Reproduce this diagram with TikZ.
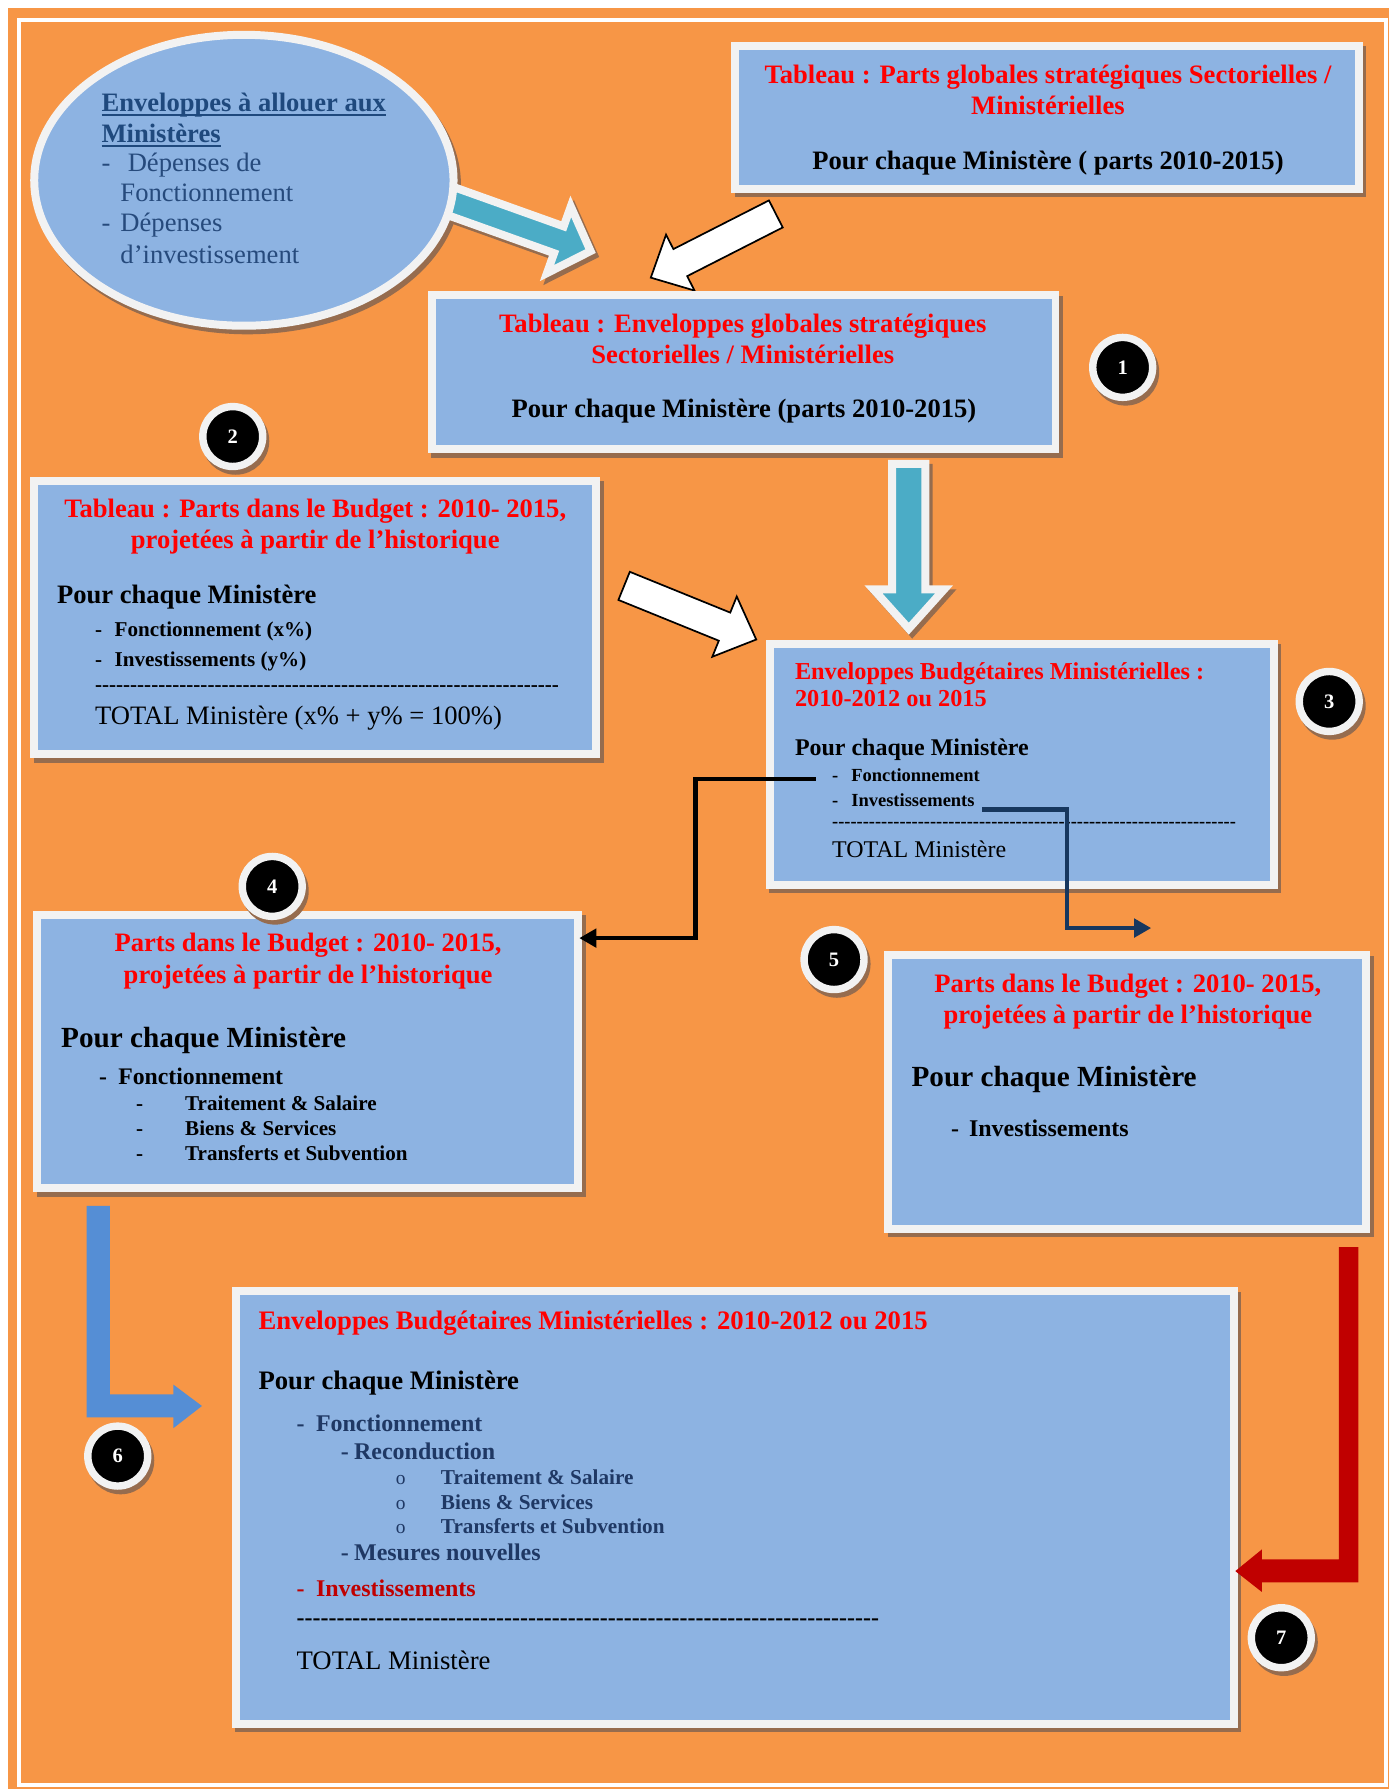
\documentclass[tikz,border=0pt]{standalone}
\usepackage{fontspec}
\setmainfont{Liberation Serif}[Ligatures=TeXOff]
\usetikzlibrary{arrows.meta,shapes.geometric}
\definecolor{orangebg}{HTML}{F79646}
\definecolor{boxblue}{HTML}{8DB3E2}
\definecolor{framec}{HTML}{F2F2F2}
\definecolor{shadowc}{RGB}{150,108,78}
\definecolor{tealarrow}{HTML}{4BACC6}
\definecolor{redtxt}{HTML}{FF0000}
\definecolor{navytxt}{HTML}{1F3864}
\definecolor{ellhead}{HTML}{1F497D}
\definecolor{ellbody}{HTML}{264A7C}
\definecolor{darkred}{HTML}{C00000}
\definecolor{cornblue}{HTML}{558ED5}
\definecolor{navyconn}{HTML}{17375E}
\newcommand\fsz[1]{\fontsize{#1}{#1}\selectfont}
\newcommand\myul[1]{\setbox0=\hbox{#1}\rlap{\rule[-3.8pt]{\wd0}{1.8pt}}\box0}
\newcount\hycnt
\newcommand\hyrow[1]{\hycnt=0\relax\loop\ifnum\hycnt<#1\relax-\advance\hycnt by 1\relax\repeat}
\begin{document}
\begin{tikzpicture}[x=1pt,y=-1pt,
  txt/.style={inner sep=0pt, outer sep=0pt, anchor=base west},
  ctxt/.style={inner sep=0pt, outer sep=0pt, anchor=base},
  box/.style={rectangle, draw=framec, line width=7pt, fill=boxblue, inner sep=0pt,
    preaction={fill=shadowc, draw=shadowc, line width=7pt, transform canvas={xshift=3pt,yshift=-4pt}}},
  numc/.style={circle, draw=framec, line width=6.5pt, fill=black, minimum size=52.5pt, inner sep=0pt,
    text=white, font=\bfseries\fsz{18},
    preaction={fill=shadowc, draw=shadowc, line width=6.5pt, transform canvas={xshift=2.5pt,yshift=-4pt}}},
  tealarr/.style={draw=framec, line width=7pt, fill=tealarrow, line join=miter, miter limit=10},
  tealshadow/.style={draw=shadowc, line width=7pt, fill=shadowc, line join=miter, miter limit=10},
  whitearr/.style={draw=black, line width=1.5pt, fill=white, line join=miter, miter limit=10},
  conn/.style={line width=4pt, -{Triangle[length=15pt,width=16pt]}},
  redh/.style={font=\bfseries\fsz{23.3}, text=redtxt},
  blk/.style={font=\bfseries\fsz{23.3}, text=black}
]
\useasboundingbox (0,0) rectangle (1217,1568);
\fill[white] (0,0) rectangle (1217,1568);
\fill[orangebg] (7,7) rectangle (1217,1568);
\draw[white, line width=3.5pt] (17,17.5) rectangle (1214.8,1564.5);

% white arrow from T1 to B1
\begin{scope}[shift={(680,187.5)}, rotate=-153]
  \draw[whitearr] (0,-13.3) -- (94,-13.3) -- (94,-27.5) -- (123,0) -- (94,27.5) -- (94,13.3) -- (0,13.3) -- cycle;
\end{scope}

% boxes
\node[box, minimum width=546.5pt, minimum height=125.3pt] (t1) at (917.75,102.65) {};
\node[box, minimum width=546.9pt, minimum height=135pt] (b1) at (651.65,326) {};
\node[box, minimum width=492.4pt, minimum height=239.8pt] (b2) at (276.3,541.1) {};
\node[box, minimum width=442pt, minimum height=211.2pt] (b3) at (895.5,669.9) {};
\node[box, minimum width=474.2pt, minimum height=239.8pt] (b4) at (269.9,921.6) {};
\node[box, minimum width=419.1pt, minimum height=239.7pt] (b5) at (987.95,957.25) {};
\node[box, minimum width=874.7pt, minimum height=379.2pt] (b6) at (644.15,1321.3) {};

% ellipse shadow, teal arrow A, ellipse
\fill[shadowc] (216.75,162) ellipse [x radius=187.25pt, y radius=131pt];
\begin{scope}[shift={(401.5,181)}, rotate=-19.67]
  \draw[tealshadow] (-8,-12.5) -- (97,-12.5) -- (97,-31) -- (126.5,0) -- (97,31) -- (97,12.5) -- (-8,12.5) -- cycle;
\end{scope}
\begin{scope}[shift={(398.5,177.5)}, rotate=-19.67]
  \draw[tealarr] (-8,-12.5) -- (97,-12.5) -- (97,-31) -- (126.5,0) -- (97,31) -- (97,12.5) -- (-8,12.5) -- cycle;
\end{scope}
\node[ellipse, draw=framec, line width=7pt, fill=boxblue, minimum width=367.5pt, minimum height=255pt, inner sep=0pt] (ell) at (213.75,158) {};

% teal arrow D (down)
\begin{scope}[shift={(799.5,410)}, rotate=-90]
  \draw[tealshadow] (0,-14.5) -- (110,-14.5) -- (110,-31) -- (144.5,0) -- (110,31) -- (110,14.5) -- (0,14.5) -- cycle;
\end{scope}
\begin{scope}[shift={(796.5,406.5)}, rotate=-90]
  \draw[tealarr] (0,-14.5) -- (110,-14.5) -- (110,-31) -- (144.5,0) -- (110,31) -- (110,14.5) -- (0,14.5) -- cycle;
\end{scope}

% white arrow C from B2 to B3
\begin{scope}[shift={(547,513.5)}, rotate=-22.1]
  \draw[whitearr] (0,-13.3) -- (95,-13.3) -- (95,-28.5) -- (125,0) -- (95,28.5) -- (95,13.3) -- (0,13.3) -- cycle;
\end{scope}

% ellipse text
\node[txt, font=\bfseries\fsz{23.3}, text=ellhead] (e1) at (89,98) {\myul{Enveloppes à allouer aux}};
\node[txt, font=\bfseries\fsz{23.3}, text=ellhead] (e2) at (89,125) {\myul{Ministères}};
\node[txt, font=\fsz{23.3}, text=ellbody] (e3) at (89,150.5) {-};
\node[txt, font=\fsz{23.3}, text=ellbody] (e4) at (112,150.5) {Dépenses de};
\node[txt, font=\fsz{23.3}, text=ellbody] (e5) at (105.6,176.5) {Fonctionnement};
\node[txt, font=\fsz{23.3}, text=ellbody] (e6) at (89,203) {-};
\node[txt, font=\fsz{23.3}, text=ellbody] (e7) at (105.6,203) {Dépenses};
\node[txt, font=\fsz{23.3}, text=ellbody] (e8) at (105.6,230.6) {d’investissement};

% T1 text
\node[ctxt, redh] (t1a) at (918.5,73) {Tableau : Parts globales stratégiques Sectorielles /};
\node[ctxt, redh] (t1b) at (918.5,100) {Ministérielles};
\node[ctxt, blk] (t1c) at (918.5,148.4) {Pour chaque Ministère ( parts 2010-2015)};

% B1 text
\node[ctxt, redh] (b1a) at (651,291) {Tableau : Enveloppes globales stratégiques};
\node[ctxt, redh] (b1b) at (651,318.3) {Sectorielles / Ministérielles};
\node[ctxt, blk] (b1c) at (652,366) {Pour chaque Ministère (parts 2010-2015)};

% B2 text
\node[ctxt, redh] (b2a) at (276.3,453.3) {Tableau : Parts dans le Budget : 2010- 2015,};
\node[ctxt, redh] (b2b) at (276.3,480.5) {projetées à partir de l’historique};
\node[txt, blk] (b2c) at (50,528.7) {Pour chaque Ministère};
\node[txt, font=\bfseries\fsz{18.5}] (b2d) at (83.3,557.9) {-};
\node[txt, font=\bfseries\fsz{18.5}] (b2e) at (100.5,557.9) {Fonctionnement (x\%)};
\node[txt, font=\bfseries\fsz{18.5}] (b2f) at (83.3,584.2) {-};
\node[txt, font=\bfseries\fsz{18.5}] (b2g) at (100.5,584.2) {Investissements (y\%)};
\node[txt, font=\bfseries\fsz{18.5}] (b2h) at (83.3,606.3) {\hyrow{66}};
\node[txt, font=\fsz{23.3}] (b2i) at (83.3,635.3) {TOTAL Ministère (x\% + y\% = 100\%)};

% B3 text
\node[txt, font=\bfseries\fsz{21.3}, text=redtxt] (b3a) at (696.8,595.2) {Enveloppes Budgétaires Ministérielles :};
\node[txt, font=\bfseries\fsz{21.3}, text=redtxt] (b3b) at (696.8,619.2) {2010-2012 ou 2015};
\node[txt, font=\bfseries\fsz{21}] (b3c) at (696.8,662.4) {Pour chaque Ministère};
\node[txt, font=\bfseries\fsz{16.2}] (b3d) at (729.4,684.9) {-};
\node[txt, font=\bfseries\fsz{16.2}] (b3e) at (746.2,684.9) {Fonctionnement};
\node[txt, font=\bfseries\fsz{16.2}] (b3f) at (729.4,706.8) {-};
\node[txt, font=\bfseries\fsz{16.2}] (b3g) at (746.2,706.8) {Investissements};
\node[txt, font=\bfseries\fsz{16.1}] (b3h) at (729.4,725.4) {\hyrow{66}};
\node[txt, font=\fsz{21}] (b3i) at (729.4,751.2) {TOTAL Ministère};

% B4 text
\node[ctxt, redh] (b4a) at (270,833.9) {Parts dans le Budget : 2010- 2015,};
\node[ctxt, redh] (b4b) at (270,861.6) {projetées à partir de l’historique};
\node[txt, font=\bfseries\fsz{25.6}] (b4c) at (53.6,917.7) {Pour chaque Ministère};
\node[txt, font=\bfseries\fsz{20.8}] (b4d) at (86.8,950.7) {-};
\node[txt, font=\bfseries\fsz{20.8}] (b4e) at (103.7,950.7) {Fonctionnement};
\node[txt, font=\bfseries\fsz{18.5}] (b4f) at (119.3,973.2) {-};
\node[txt, font=\bfseries\fsz{18.5}] (b4g) at (162.3,973.2) {Traitement \& Salaire};
\node[txt, font=\bfseries\fsz{18.5}] (b4h) at (119.3,995.4) {-};
\node[txt, font=\bfseries\fsz{18.5}] (b4i) at (162.3,995.4) {Biens \& Services};
\node[txt, font=\bfseries\fsz{18.5}] (b4j) at (119.3,1017.3) {-};
\node[txt, font=\bfseries\fsz{18.5}] (b4k) at (162.3,1017.3) {Transferts et Subvention};

% B5 text
\node[ctxt, redh] (b5a) at (988.5,869.8) {Parts dans le Budget : 2010- 2015,};
\node[ctxt, redh] (b5b) at (988.5,897.2) {projetées à partir de l’historique};
\node[txt, font=\bfseries\fsz{25.6}] (b5c) at (799,952.1) {Pour chaque Ministère};
\node[txt, font=\bfseries\fsz{21}] (b5d) at (833.6,995.9) {-};
\node[txt, font=\bfseries\fsz{21}] (b5e) at (849.3,995.9) {Investissements};

% B6 text
\node[txt, font=\bfseries\fsz{23.4}, text=redtxt] (b6a) at (226.6,1164.9) {Enveloppes Budgétaires Ministérielles : 2010-2012 ou 2015};
\node[txt, font=\bfseries\fsz{23.4}] (b6b) at (226.6,1217.7) {Pour chaque Ministère};
\node[txt, font=\bfseries\fsz{21}, text=navytxt] (b6c) at (260,1255) {-};
\node[txt, font=\bfseries\fsz{21}, text=navytxt] (b6d) at (277,1255) {Fonctionnement};
\node[txt, font=\bfseries\fsz{21}, text=navytxt] (b6e) at (298.8,1278.9) {-};
\node[txt, font=\bfseries\fsz{21}, text=navytxt] (b6f) at (310.4,1278.9) {Reconduction};
\node[txt, font=\fsz{17}, text=navytxt] (b6g) at (347,1301) {o};
\node[txt, font=\bfseries\fsz{18.6}, text=navytxt] (b6h) at (386.5,1301) {Traitement \& Salaire};
\node[txt, font=\fsz{17}, text=navytxt] (b6i) at (347,1323) {o};
\node[txt, font=\bfseries\fsz{18.6}, text=navytxt] (b6j) at (386.5,1323) {Biens \& Services};
\node[txt, font=\fsz{17}, text=navytxt] (b6k) at (347,1344.2) {o};
\node[txt, font=\bfseries\fsz{18.6}, text=navytxt] (b6l) at (386.5,1344.2) {Transferts et Subvention};
\node[txt, font=\bfseries\fsz{21}, text=navytxt] (b6m) at (298.8,1367.4) {-};
\node[txt, font=\bfseries\fsz{21}, text=navytxt] (b6n) at (310.4,1367.4) {Mesures nouvelles};
\node[txt, font=\bfseries\fsz{21}, text=darkred] (b6o) at (260,1399.7) {-};
\node[txt, font=\bfseries\fsz{21}, text=darkred] (b6p) at (277,1399.7) {Investissements};
\node[txt, font=\bfseries\fsz{21}, text=black] (b6q) at (260,1424.6) {\hyrow{73}};
\node[txt, font=\fsz{23.4}] (b6r) at (260,1463.3) {TOTAL Ministère};

% elbow connectors
\coordinate (fA) at (715,682.6);
\coordinate (fB) at (507.7,822.2);
\draw[conn, draw=black] (fA) -- ++(-105.5,0) |- (fB);
\coordinate (gA) at (860.8,709.7);
\coordinate (gB) at (1009,813.4);
\draw[conn, draw=navyconn] (gA) -- ++(74.2,0) |- (gB);

% bent arrows
\fill[cornblue] (76,1057) -- (96.2,1057) -- (96.2,1222) -- (152,1222) -- (152,1213.6) -- (177,1232.3)
  -- (152,1251.7) -- (152,1242.2) -- (76,1242.2) -- cycle;
\fill[darkred] (1173.4,1093) -- (1190.5,1093) -- (1190.5,1386.8) -- (1106,1386.8) -- (1106,1395.3)
  -- (1082.7,1377) -- (1106,1358) -- (1106,1366.7) -- (1173.4,1366.7) -- cycle;

% numbered circles
\node[numc] (n1) at (984,322) {1};
\node[numc] (n2) at (204,382.6) {2};
\node[numc] (n3) at (1165,614.8) {3};
\node[numc] (n4) at (238.6,776.9) {4};
\node[numc] (n5) at (731,841) {5};
\node[numc] (n6) at (103.2,1276.2) {6};
\node[numc] (n7) at (1123,1435.4) {7};
\end{tikzpicture}
\end{document}
